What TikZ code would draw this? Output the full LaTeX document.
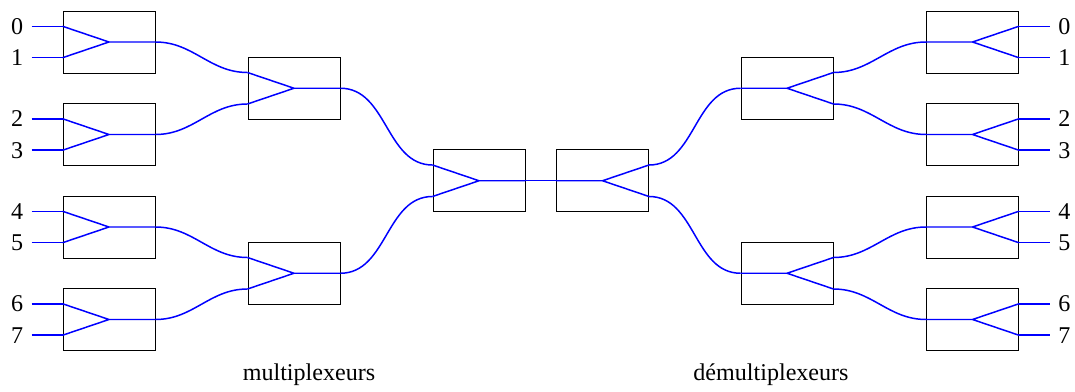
\documentclass[tikz,border=0pt]{standalone}
\usepackage{fontspec}
\setmainfont{Liberation Serif}
\usepackage{tikz}
\usetikzlibrary{positioning, calc}
\tikzstyle{box} = [rectangle, minimum width=1.84cm, minimum height=1.24cm, inner sep=0pt, draw=black, line width=0.55pt]
\tikzstyle{fibre} = [blue, line width=0.85pt]
\tikzstyle{num} = [inner sep=0.16cm]
% Y junction inside a box: two ports on the left, one output on the right
\newcommand{\muxwire}[1]{
\coordinate (#1-a) at ($(#1.north west)!.25!(#1.south west)$);
\coordinate (#1-b) at ($(#1.north west)!.75!(#1.south west)$);
\draw [fibre] (#1-a) -- (#1.center) -- (#1-b) (#1.center) -- (#1.east);
}
% and the other way round
\newcommand{\demuxwire}[1]{
\coordinate (#1-a) at ($(#1.north east)!.25!(#1.south east)$);
\coordinate (#1-b) at ($(#1.north east)!.75!(#1.south east)$);
\draw [fibre] (#1-a) -- (#1.center) -- (#1-b) (#1.center) -- (#1.west);
}

\begin{document}
\begin{tikzpicture}[node distance=1.85cm, font=\fontsize{13.7}{16}\selectfont]
\useasboundingbox (0,0) rectangle (21.5,7.82);

% multiplexeurs
\node (mA1) [box] at (2.18,6.98) {};
\node (mA2) [box, below of=mA1] {};
\node (mA3) [box, below of=mA2] {};
\node (mA4) [box, below of=mA3] {};
\node (mB1) [box] at (5.88,6.055) {};
\node (mB2) [box, below of=mB1, yshift=-1.85cm] {};
\node (mC) [box] at (9.58,4.205) {};
\muxwire{mA1} \muxwire{mA2} \muxwire{mA3} \muxwire{mA4}
\muxwire{mB1} \muxwire{mB2} \muxwire{mC}

% demultiplexeurs
\node (dC) [box] at (12.05,4.205) {};
\node (dB1) [box] at (15.74,6.055) {};
\node (dB2) [box, below of=dB1, yshift=-1.85cm] {};
\node (dA1) [box] at (19.45,6.98) {};
\node (dA2) [box, below of=dA1] {};
\node (dA3) [box, below of=dA2] {};
\node (dA4) [box, below of=dA3] {};
\demuxwire{dC} \demuxwire{dB1} \demuxwire{dB2}
\demuxwire{dA1} \demuxwire{dA2} \demuxwire{dA3} \demuxwire{dA4}

% entrees
\node (in0) [num, left=0.62cm of mA1-a] {0};
\node (in1) [num, left=0.62cm of mA1-b] {1};
\node (in2) [num, left=0.62cm of mA2-a] {2};
\node (in3) [num, left=0.62cm of mA2-b] {3};
\node (in4) [num, left=0.62cm of mA3-a] {4};
\node (in5) [num, left=0.62cm of mA3-b] {5};
\node (in6) [num, left=0.62cm of mA4-a] {6};
\node (in7) [num, left=0.62cm of mA4-b] {7};
\draw [fibre] (in0) -- (mA1-a);
\draw [fibre] (in1) -- (mA1-b);
\draw [fibre] (in2) -- (mA2-a);
\draw [fibre] (in3) -- (mA2-b);
\draw [fibre] (in4) -- (mA3-a);
\draw [fibre] (in5) -- (mA3-b);
\draw [fibre] (in6) -- (mA4-a);
\draw [fibre] (in7) -- (mA4-b);

% sorties
\node (out0) [num, right=0.62cm of dA1-a] {0};
\node (out1) [num, right=0.62cm of dA1-b] {1};
\node (out2) [num, right=0.62cm of dA2-a] {2};
\node (out3) [num, right=0.62cm of dA2-b] {3};
\node (out4) [num, right=0.62cm of dA3-a] {4};
\node (out5) [num, right=0.62cm of dA3-b] {5};
\node (out6) [num, right=0.62cm of dA4-a] {6};
\node (out7) [num, right=0.62cm of dA4-b] {7};
\draw [fibre] (dA1-a) -- (out0);
\draw [fibre] (dA1-b) -- (out1);
\draw [fibre] (dA2-a) -- (out2);
\draw [fibre] (dA2-b) -- (out3);
\draw [fibre] (dA3-a) -- (out4);
\draw [fibre] (dA3-b) -- (out5);
\draw [fibre] (dA4-a) -- (out6);
\draw [fibre] (dA4-b) -- (out7);

% liaisons
\draw [fibre] (mA1.east) to[out=0, in=180] (mB1-a);
\draw [fibre] (mA2.east) to[out=0, in=180] (mB1-b);
\draw [fibre] (mA3.east) to[out=0, in=180] (mB2-a);
\draw [fibre] (mA4.east) to[out=0, in=180] (mB2-b);
\draw [fibre] (mB1.east) to[out=0, in=180] (mC-a);
\draw [fibre] (mB2.east) to[out=0, in=180] (mC-b);
\draw [fibre] (mC.east) -- (dC.west);
\draw [fibre] (dC-a) to[out=0, in=180] (dB1.west);
\draw [fibre] (dC-b) to[out=0, in=180] (dB2.west);
\draw [fibre] (dB1-a) to[out=0, in=180] (dA1.west);
\draw [fibre] (dB1-b) to[out=0, in=180] (dA2.west);
\draw [fibre] (dB2-a) to[out=0, in=180] (dA3.west);
\draw [fibre] (dB2-b) to[out=0, in=180] (dA4.west);

\node (mlabel) [anchor=base] at (6.18,0.22) {multiplexeurs};
\node (dlabel) [anchor=base] at (15.42,0.22) {démultiplexeurs};

\end{tikzpicture}
\end{document}
